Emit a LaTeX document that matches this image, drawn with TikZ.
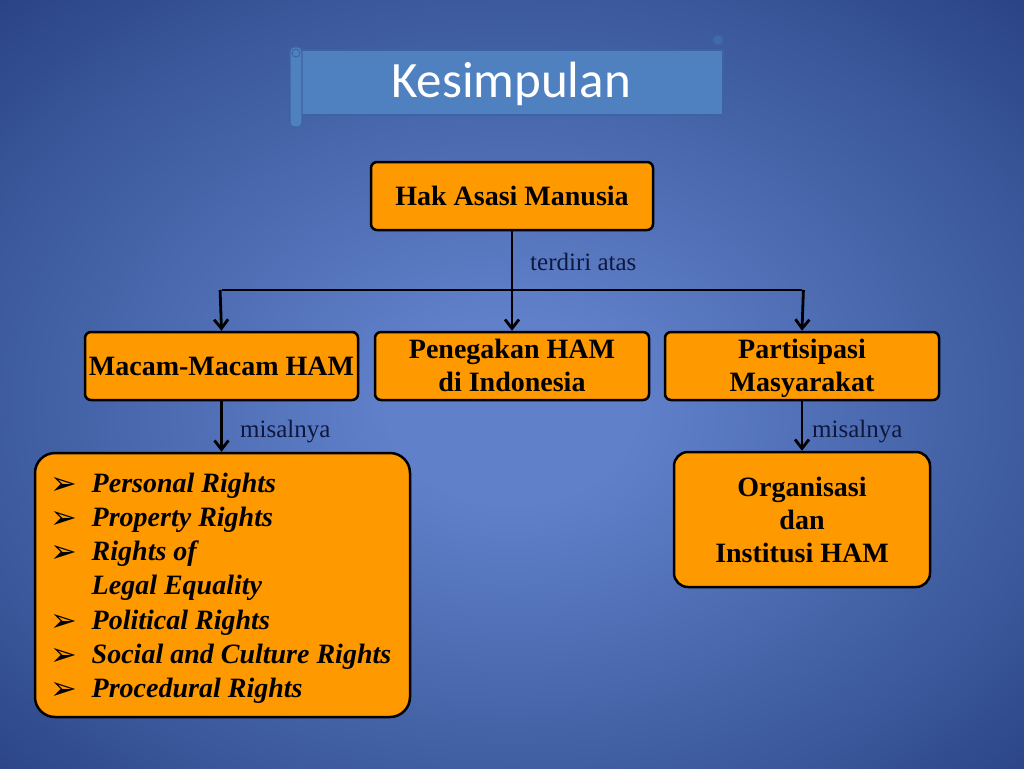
\documentclass[tikz,border=0pt]{standalone}
\usepackage{fontspec}
\setmainfont{Liberation Serif}
\newfontfamily\titlefont{Carlito}
\newfontfamily\symfont{DejaVu Sans}
\usetikzlibrary{arrows.meta}
\definecolor{bgin}{RGB}{96,128,202}
\definecolor{bgmid}{RGB}{56,86,152}
\definecolor{bgedge}{RGB}{38,62,130}
\definecolor{bgout}{RGB}{20,40,100}
\definecolor{boxfill}{RGB}{255,153,0}
\definecolor{scroll}{RGB}{79,129,192}
\definecolor{scrolledge}{RGB}{60,100,165}
\definecolor{lbl}{RGB}{14,24,62}
\pgfdeclareradialshading{bgshade}{\pgfpoint{0bp}{-2bp}}{color(0bp)=(bgin); color(6bp)=(bgin); color(28bp)=(bgmid); color(38bp)=(bgedge); color(48bp)=(bgout); color(60bp)=(bgout)}
\tikzset{
  box/.style={draw=black, fill=boxfill, line width=2.5pt, rounded corners=6pt, align=center,
    font=\fontsize{28}{33}\selectfont\bfseries, inner sep=0pt},
  conn/.style={line width=2.8pt, -{Straight Barb[length=9pt,width=14pt,line width=2.8pt]}},
  plain/.style={line width=2.8pt},
  lab/.style={text=lbl, font=\fontsize{25}{30}\selectfont, inner sep=0pt}
}
\newcommand{\bulletmark}{{\symfont\fontsize{32}{32}\selectfont\upshape\hspace*{-3pt}\raisebox{-2pt}{➢}}}
\begin{document}
\begin{tikzpicture}[x=1pt,y=-1pt]
\useasboundingbox (0,0) rectangle (1024,768);
\shade[shading=bgshade] (0,0) rectangle (1024,768);
% title scroll
\draw[fill=scroll, draw=scrolledge, line width=1.2pt] (301,50) rectangle (723,115);
\draw[fill=scroll, draw=scrolledge, line width=1.2pt, rounded corners=4pt] (290,47) rectangle (302,127);
\draw[fill=scroll, draw=scrolledge, line width=1pt] (296,53) circle (4);
\draw[fill=scrolledge!80!scroll, draw=scrolledge, line width=1pt] (718,40) circle (5);
\node[text=white, font=\titlefont\fontsize{51}{54}\selectfont, inner sep=0pt] (title) at (511,84) {Kesimpulan};
% boxes
\node[box, minimum width=282pt, minimum height=68pt] (hak) at (512,196) {Hak Asasi Manusia};
\node[box, minimum width=273pt, minimum height=68pt] (macam) at (221.5,366) {Macam-Macam HAM};
\node[box, minimum width=274pt, minimum height=68pt] (peng) at (512,366) {\raisebox{-2pt}[\height][\depth]{\begin{tabular}{@{}c@{}}Penegakan HAM\\di Indonesia\end{tabular}}};
\node[box, minimum width=274pt, minimum height=68pt] (part) at (802,366) {\raisebox{-2pt}[\height][\depth]{\begin{tabular}{@{}c@{}}Partisipasi\\Masyarakat\end{tabular}}};
\node[box, rounded corners=20pt, minimum width=375pt, minimum height=264pt, align=left,
  font=\fontsize{28}{34.2}\selectfont\bfseries\itshape] (list) at (222.5,585) {%
  \raisebox{-3pt}[\height][\depth]{\begin{tabular}{@{}p{38pt}@{}l@{}}
  \bulletmark & Personal Rights\\
  \bulletmark & Property Rights\\
  \bulletmark & Rights of\\
  & Legal Equality\\
  \bulletmark & Political Rights\\
  \bulletmark & Social and Culture Rights\\
  \bulletmark & Procedural Rights
  \end{tabular}}};
\node[box, rounded corners=14pt, minimum width=256pt, minimum height=135pt] (org) at (802,519.5) {Organisasi\\dan\\Institusi HAM};
% connectors
\coordinate (bar) at (512,290);
\draw[conn] (hak.south) -- (peng.north);
\draw[plain] (bar -| macam.north) -- (bar -| part.north);
\draw[conn] ([xshift=-1.4pt]bar -| macam.north) -- (macam.north);
\draw[conn] ([xshift=1.4pt]bar -| part.north) -- (part.north);
\draw[conn] (macam.south) -- (list.north -| macam.south);
\draw[conn] (part.south) -- (org.north -| part.south);
% labels
\node[lab, anchor=west] (l1) at (530,262) {terdiri atas};
\node[lab, anchor=west] (l2) at (240,432) {misalnya};
\node[lab, anchor=west] (l3) at (812,432) {misalnya};
\end{tikzpicture}
\end{document}
